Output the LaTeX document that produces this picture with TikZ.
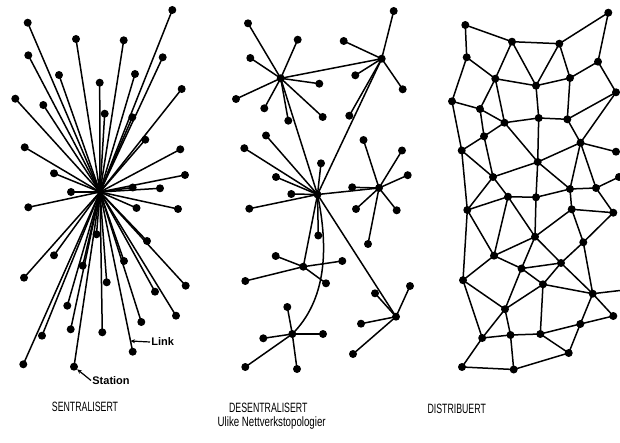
\documentclass[tikz,border=0pt]{standalone}
\usepackage{fontspec}
\setmainfont{Liberation Sans}
\usetikzlibrary{arrows.meta,calc}
\begin{document}
\begin{tikzpicture}[x=1pt,y=-1pt,
 dot/.style={circle,fill=black,inner sep=0pt,minimum size=8pt},
 hubdot/.style={circle,fill=black,inner sep=0pt,minimum size=6pt},
 link/.style={line width=1.5pt,black},
 lbl/.style={font=\fontsize{13.5}{15}\selectfont,inner sep=0pt},
 callout/.style={font=\bfseries\fontsize{11}{12}\selectfont,inner sep=1.2pt},
 ptr/.style={line width=1.2pt,-{Stealth[length=4.5pt,width=4pt]}}]
\useasboundingbox[fill=white] (0,0) rectangle (620,443);

% ---------- SENTRALISERT ----------
\node[hubdot] (hubL) at (100,192) {};
\foreach \x/\y [count=\i] in {27.7/22.7,172.3/10,76/39,123.7/40.3,28.3/55.3,162.7/57.3,59/75,135/74,99.7/82.7,181.7/89,15.3/98.7,43.3/105,104.7/113.7,132.3/117.3,145.3/139.7,24.7/147.3,180.3/149.3,54/173.3,185/175,132.7/187.5,160/188.3,71/192,28.3/207.3,136.5/208,178/209,96.5/234.3,147/241,54/255.3,82.7/265.7,124/261,24/277.7,106.7/282.3,185.7/285.7,155/291.7,67.3/305.7,176/315.7,141.3/322,70.7/329.3,102.3/332.3,42/335.7,132.7/351.7,23.3/364.3,74/366.7}{
  \node[dot] (L\i) at (\x,\y) {};
  \draw[link] (hubL.center) -- (L\i.center);
}
\node[callout,anchor=west] (linklbl) at (150,342) {Link};
\coordinate (linktip) at ($(hubL)!0.933!(L41)$);
\draw[ptr] (linklbl.west) -- (linktip);
\node[callout,anchor=west] (stationlbl) at (91,380.5) {Station};
\draw[ptr] (stationlbl.west) -- (L43);

% ---------- DESENTRALISERT ----------
\node[dot] (A) at (280.7,78.3) {};
\node[dot] (B) at (381.7,58.7) {};
\node[dot] (C) at (317.5,194.5) {};
\node[dot] (G) at (379,188) {};
\node[dot] (D) at (303.3,266.7) {};
\node[dot] (E) at (292.3,334) {};
\node[dot] (F) at (396,316.7) {};
\foreach \x/\y [count=\i] in {248/23.3,297.7/39.7,250.3/58,319.3/83.7,236/99,264.3/108.3,288.3/120.7,322.7/117}{
  \node[dot] (A\i) at (\x,\y) {}; \draw[link] (A.center) -- (A\i.center);}
\foreach \x/\y [count=\i] in {393.7/11,343.7/41,355.3/75.3,402.7/89.3,349.3/115.7}{
  \node[dot] (B\i) at (\x,\y) {}; \draw[link] (B.center) -- (B\i.center);}
\foreach \x/\y [count=\i] in {266/135.5,244.3/148.2,321/163.3,276/177,291.3/194,249.3/208.7,318.3/235.5}{
  \node[dot] (C\i) at (\x,\y) {}; \draw[link] (C.center) -- (C\i.center);}
\foreach \x/\y [count=\i] in {363.5/140,402/150.5,407.7/175.2,352.2/187.3,356/209,396.7/210.3,368/244}{
  \node[dot] (G\i) at (\x,\y) {}; \draw[link] (G.center) -- (G\i.center);}
\foreach \x/\y [count=\i] in {275.7/256,342.3/261,245.3/281,326/283.3}{
  \node[dot] (D\i) at (\x,\y) {}; \draw[link] (D.center) -- (D\i.center);}
\foreach \x/\y [count=\i] in {287.3/307,263.3/338.3,323/334,245.3/367,297/369}{
  \node[dot] (E\i) at (\x,\y) {}; \draw[link] (E.center) -- (E\i.center);}
\foreach \x/\y [count=\i] in {410/286,375/293.3,361/323.7,353/354}{
  \node[dot] (F\i) at (\x,\y) {}; \draw[link] (F.center) -- (F\i.center);}
\draw[link] (A.center) -- (B.center);
\draw[link] (A.center) -- (C.center);
\draw[link] (B.center) -- (C.center);
\draw[link] (C.center) -- (G.center);
\draw[link] (C.center) -- (D.center);
\draw[link] (C.center) -- (F.center);
\draw[link] (C.center) .. controls (329,250) and (326,300) .. (E.center);

% ---------- DISTRIBUERT ----------
\foreach \x/\y [count=\i] in {465.3/25,608.3/12.7,512/41.7,559.3/43.7,466.7/57.3,598/61.7,495.3/78.7,536/85.7,570/78,616/92.3,452/101.3,480/109,538.7/118,567.3/119.3,504.5/122.7,484/136.3,580.5/142.7,461.7/150.5,616/151.7,537.7/162,493/177,619/177,570/189,596/188,508/196.7,536/197.3,467.3/210,571.7/209.3,613.3/212.7,535/236.7,583.3/242.3,494/255.7,561/263,521.5/268.5,463/280.2,543/284.3,592.7/293.7,505/309.2,613.3/316,580.3/324,482.2/338,510.5/335,540.3/334,568.7/353,462/367,513.7/369.5}{
  \node[dot] (R\i) at (\x,\y) {};
}
\coordinate (Redge) at (620,290.5);
\foreach \a/\b in {1/3,1/5,3/4,4/2,2/6,3/7,3/8,4/8,4/9,5/7,5/11,6/9,6/10,7/8,8/9,7/12,7/15,8/13,9/14,11/12,11/18,12/15,12/16,15/16,15/13,13/14,14/10,10/17,14/17,15/20,13/20,16/18,16/21,18/21,20/21,20/17,17/19,17/23,17/24,20/23,20/26,21/25,21/27,18/27,23/24,24/22,25/26,26/23,23/28,24/29,28/29,27/25,25/32,25/30,26/30,28/30,28/31,29/31,27/32,27/35,30/32,30/34,30/33,32/34,34/33,31/33,31/37,33/36,33/37,35/32,35/38,35/41,34/38,34/36,36/38,36/43,36/37,37/39,37/40,40/39,40/43,40/44,38/41,38/42,41/42,42/43,42/46,43/44,46/44,45/46,41/45}{
  \draw[link] (R\a.center) -- (R\b.center);
}
\draw[link] (R37.center) -- (Redge);

% ---------- labels ----------
\node[lbl] (t1) at (85,406.7) {\scalebox{0.65}[1]{SENTRALISERT}};
\node[lbl] (t2) at (268.3,408.3) {\scalebox{0.65}[1]{DESENTRALISERT}};
\node[lbl] (t3) at (456.7,409.3) {\scalebox{0.65}[1]{DISTRIBUERT}};
\node[lbl] (t4) at (271.7,423) {\scalebox{0.72}[1]{Ulike Nettverkstopologier}};
\end{tikzpicture}
\end{document}
